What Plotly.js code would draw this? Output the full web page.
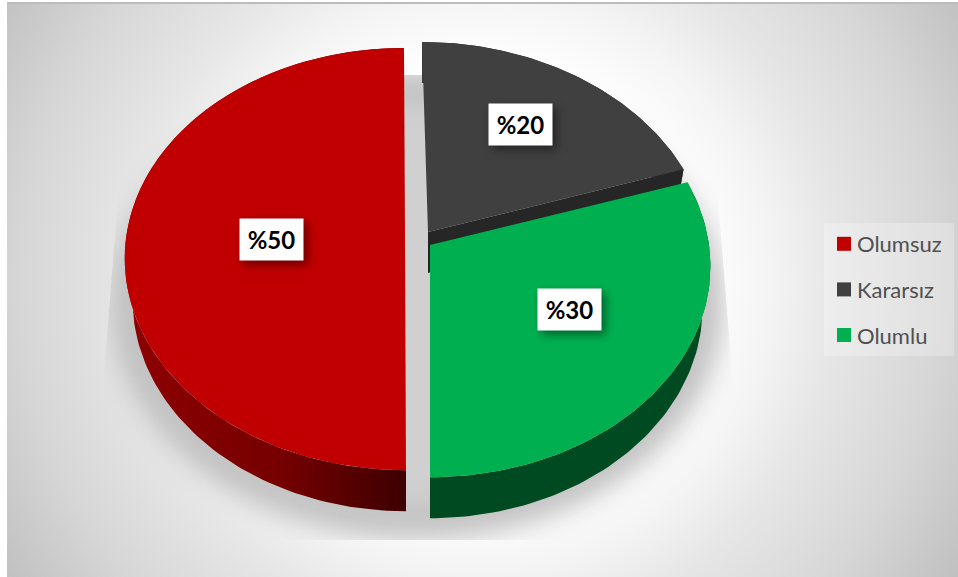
<!DOCTYPE html>
<html>
<head>
<meta charset="utf-8">
<script src="https://cdn.plot.ly/plotly-3.0.1.min.js"></script>
<style>
html,body{margin:0;padding:0;background:#fff;width:958px;height:577px;overflow:hidden}
#frame{position:absolute;left:7px;top:2px;width:951px;height:575px;box-sizing:border-box;border-top:2px solid #bcbcbc;
 background:radial-gradient(circle 560px at 473px 278px,#fff 0,#fff 215px,#f4f4f4 290px,#e6e6e6 356px,#d6d6d6 460px,#c0c0c0 100%)}
#shadowClip{position:absolute;left:0;top:0;width:958px;height:577px;
 clip-path:polygon(128px 75px,708px 75px,733px 385px,733px 540px,103px 540px,103px 385px)}
#shadow{position:absolute;left:112px;top:70px;width:610px;height:468px;border-radius:50%;
 background:radial-gradient(closest-side,#d0d0d0 80%,#b9b9b9 100%);filter:blur(13px)}
#chart{position:absolute;left:0;top:0;width:958px;height:577px}
.annotation rect.bg{filter:drop-shadow(4px 4px 5px rgba(0,0,0,.45))}
</style>
</head>
<body>
<div id="frame"></div>
<div id="shadowClip"><div id="shadow"></div></div>
<div id="chart"></div>
<script>
// data
const categories = ["Olumsuz", "Kararsız", "Olumlu"];
const values = [50, 20, 30];
const percentLabels = ["%50", "%20", "%30"];
const topColors = ["#C00000", "#404040", "#00B050"];

// pie styling
const sideGradients = [
  [[0, "#8f0000"], [0.55, "#760000"], [1, "#3e0000"]],
  [[0, "#262626"], [1, "#262626"]],
  [[0, "#004a22"], [1, "#004a22"]]
];
const apexX = [405, 428, 430];
const apexY = [238, 232, 245];
const shear = [-1, -6, 0];
const labelX = [271.5, 520.5, 569.5];
const labelY = [240.5, 125.5, 310.5];
const sx = 279, sy = 209, persp = 0.1, depth = 41, lowerShrink = 0.972;

// angular extents, clockwise from 12 o'clock, Kararsız first
const total = values.reduce((a, b) => a + b, 0);
const drawOrder = [0, 1, 2];
const startFrac = {1: 0, 2: values[1] / total, 0: (values[1] + values[2]) / total};

function project(i, fraction, r) {
  const th = 2 * Math.PI * fraction;
  const X = r * Math.sin(th), Y = r * Math.cos(th);
  const d = 1 + persp * Y;
  return [apexX[i] + sx * X / d + shear[i] * Y, apexY[i] - sy * Y / d];
}
function rim(i) {
  const pts = [], a = startFrac[i], b = a + values[i] / total;
  const n = Math.max(20, Math.round(values[i] * 3));
  for (let k = 0; k <= n; k++) pts.push(project(i, a + (b - a) * k / n, 1));
  return pts;
}
function poly(pts, extra) {
  return Object.assign({
    type: "scatter", mode: "lines", x: pts.map(p => p[0]), y: pts.map(p => p[1]),
    fill: "toself", line: {width: 0}, hoverinfo: "skip", showlegend: false
  }, extra);
}
const traces = [];
drawOrder.forEach(i => {
  const arc = rim(i);
  const low = arc.map(p => [apexX[i] + (p[0] - apexX[i]) * lowerShrink, p[1] + depth]);
  const grad = {fillgradient: {type: "horizontal", colorscale: sideGradients[i]}};
  const apex = project(i, 0, 0);
  const apexLow = [apex[0], apex[1] + depth];
  if (i === 1) traces.push(poly([apex, arc[arc.length - 1], low[low.length - 1], apexLow, apex], grad));
  traces.push(poly(arc.concat(low.slice().reverse()).concat([arc[0]]), grad));
  traces.push(poly([apex].concat(arc).concat([apex]), {fillcolor: topColors[i]}));
});
categories.forEach((c, i) => traces.push({
  type: "scatter", mode: "markers", x: [null], y: [null], name: c, legendgroup: c,
  marker: {symbol: "square", size: 14, color: topColors[i]}, hoverinfo: "skip", showlegend: true
}));

const annotations = percentLabels.map((t, i) => ({
  xref: "x", yref: "y", x: labelX[i], y: labelY[i] - 1, text: "<b>" + t + "</b>", showarrow: false,
  width: 61, height: 39, bgcolor: "#ffffff", font: {family: "Lato, sans-serif", size: 24, color: "#000"}
}));

const layout = {
  width: 958, height: 577, margin: {l: 0, r: 0, t: 0, b: 0},
  paper_bgcolor: "rgba(0,0,0,0)", plot_bgcolor: "rgba(0,0,0,0)",
  xaxis: {range: [0, 958], visible: false, fixedrange: true},
  yaxis: {range: [577, 0], visible: false, fixedrange: true},
  showlegend: true,
  legend: {
    xref: "paper", yref: "paper", x: 824 / 958, y: 1 - 223 / 577, xanchor: "left", yanchor: "top",
    bgcolor: "rgba(255,255,255,0.25)", borderwidth: 0, traceorder: "grouped", tracegroupgap: 14,
    entrywidth: 88, entrywidthmode: "pixels", itemclick: false, itemdoubleclick: false,
    font: {family: "Lato, sans-serif", size: 22, color: "#505050"}
  },
  annotations: annotations
};
Plotly.newPlot("chart", traces, layout, {displayModeBar: false, responsive: false}).then(() => {
  document.querySelectorAll("#chart .legendtext").forEach(t => t.setAttribute("x", 33));
});
</script>
</body>
</html>
